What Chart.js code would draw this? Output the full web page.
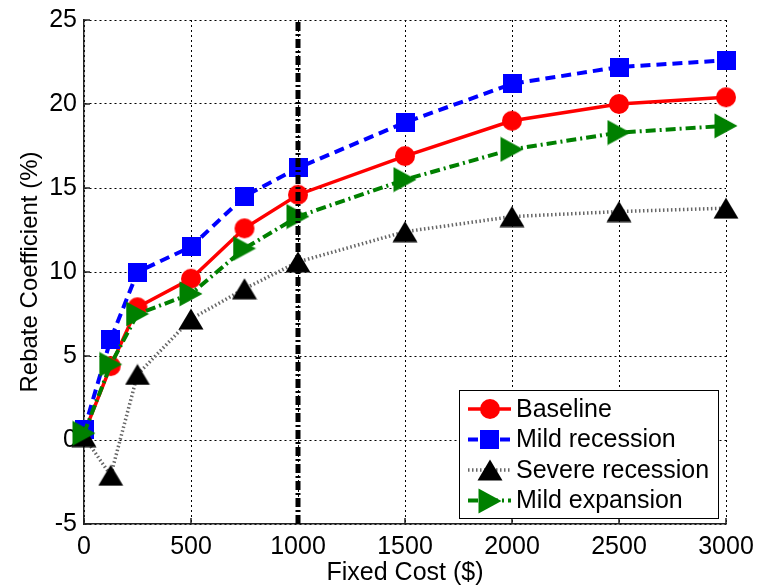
<!DOCTYPE html>
<html>
<head>
<meta charset="utf-8">
<script src="https://cdn.jsdelivr.net/npm/chart.js@4.4.0/dist/chart.umd.min.js"></script>
<style>
  body { margin: 0; background: #fff; }
</style>
</head>
<body>
<canvas id="rebateChart" width="757" height="586"></canvas>
<script>
// values
const fixedCost = [0, 125, 250, 500, 750, 1000, 1500, 2000, 2500, 3000]
const baseline = [0.4, 4.4, 7.9, 9.6, 12.6, 14.6, 16.9, 19.0, 20.0, 20.4]
const mildRecession = [0.6, 6.0, 10.0, 11.5, 14.5, 16.2, 18.9, 21.2, 22.2, 22.6]
const severeRecession = [0.2, -2.1, 3.9, 7.2, 9.0, 10.6, 12.4, 13.3, 13.6, 13.8]
const mildExpansion = [0.4, 4.5, 7.5, 8.7, 11.4, 13.3, 15.5, 17.3, 18.3, 18.7]
const thresholdCost = 1000

const xTicks = [0, 500, 1000, 1500, 2000, 2500, 3000]
const yTicks = [-5, 0, 5, 10, 15, 20, 25]

const fontFamily = "'Liberation Sans', Arial, Helvetica, sans-serif"

const toPoints = (ys) => fixedCost.map((x, i) => ({ x: x, y: ys[i] }))

// matlab-like markers, centred on their bounding box
function makeMarker(w, h, draw) {
  const c = document.createElement("canvas")
  c.width = w
  c.height = h
  const g = c.getContext("2d")
  draw(g)
  return c
}
const circleMark = makeMarker(22, 22, g => {
  g.fillStyle = "#ff0000"
  g.beginPath()
  g.arc(11, 11, 10, 0, Math.PI * 2)
  g.fill()
})
const squareMark = makeMarker(19, 19, g => {
  g.fillStyle = "#0000ff"
  g.fillRect(0, 0, 19, 19)
})
const upMark = makeMarker(26, 22, g => {
  g.fillStyle = "#000"
  g.beginPath()
  g.moveTo(13, 0.5); g.lineTo(25.5, 21.5); g.lineTo(0.5, 21.5)
  g.closePath()
  g.fill()
})
const rightMark = makeMarker(24, 26, g => {
  g.fillStyle = "#008000"
  g.beginPath()
  g.moveTo(0.5, 0.5); g.lineTo(23.5, 13); g.lineTo(0.5, 25.5)
  g.closePath()
  g.fill()
})

// small inward tick marks on the left and bottom axes
const innerTicks = {
  id: "innerTicks",
  beforeDatasetsDraw(chart) {
    const { ctx, chartArea: a, scales } = chart
    ctx.save()
    ctx.strokeStyle = "#222"
    ctx.lineWidth = 1.5
    ctx.beginPath()
    xTicks.forEach(v => {
      const px = Math.round(scales.x.getPixelForValue(v))
      ctx.moveTo(px, a.bottom)
      ctx.lineTo(px, a.bottom - 6)
    })
    yTicks.forEach(v => {
      const py = Math.round(scales.y.getPixelForValue(v))
      ctx.moveTo(a.left, py)
      ctx.lineTo(a.left + 6, py)
    })
    ctx.stroke()
    ctx.restore()
  }
}

const boxLegend = {
  id: "boxLegend",
  afterDraw(chart) {
    const ctx = chart.ctx
    const area = chart.chartArea
    const items = chart.data.datasets.filter(d => d.label)
    const w = 259, h = 128
    const x0 = area.right - 8 - w, y0 = area.bottom - 6 - h
    ctx.save()
    ctx.fillStyle = "#fff"
    ctx.fillRect(x0, y0, w, h)
    ctx.strokeStyle = "#000"
    ctx.lineWidth = 1
    ctx.strokeRect(x0 + 0.5, y0 + 0.5, w, h)
    items.forEach((d, i) => {
      const cy = y0 + 19 + i * 30.5
      ctx.strokeStyle = d.borderColor
      ctx.lineWidth = d.borderWidth
      ctx.setLineDash(d.borderDash || [])
      ctx.beginPath()
      ctx.moveTo(x0 + 9, cy)
      ctx.lineTo(x0 + 52, cy)
      ctx.stroke()
      ctx.setLineDash([])
      const m = d.pointStyle
      ctx.drawImage(m, Math.round(x0 + 30.5 - m.width / 2), Math.round(cy - m.height / 2))
      ctx.fillStyle = "#000"
      ctx.font = "25px " + fontFamily
      ctx.textBaseline = "middle"
      ctx.fillText(d.label, x0 + 57, cy + 1)
    })
    ctx.restore()
  }
}

const chart = new Chart(document.getElementById("rebateChart"), {
  type: "line",
  data: {
    datasets: [
      {
        label: "Baseline",
        data: toPoints(baseline),
        borderColor: "#ff0000",
        borderWidth: 3.5,
        pointStyle: circleMark,
        order: 4
      },
      {
        label: "Mild recession",
        data: toPoints(mildRecession),
        borderColor: "#0000ff",
        borderWidth: 4,
        borderDash: [10, 6],
        pointStyle: squareMark,
        order: 3
      },
      {
        label: "Severe recession",
        data: toPoints(severeRecession),
        borderColor: "#666",
        borderWidth: 3.5,
        borderDash: [1.5, 2.5],
        pointStyle: upMark,
        order: 2
      },
      {
        label: "Mild expansion",
        data: toPoints(mildExpansion),
        borderColor: "#008000",
        borderWidth: 4,
        borderDash: [10, 4, 2, 4],
        pointStyle: rightMark,
        order: 1
      },
      {
        data: [{ x: thresholdCost, y: yTicks[0] }, { x: thresholdCost, y: yTicks[yTicks.length - 1] }],
        borderColor: "#000",
        borderWidth: 5,
        borderDash: [9, 3, 2, 3],
        pointRadius: 0,
        order: 0
      }
    ]
  },
  options: {
    responsive: false,
    animation: false,
    layout: { padding: { top: 20, right: 31, left: 0, bottom: 0 } },
    elements: {
      line: { tension: 0, fill: false },
      point: { radius: 10, hoverRadius: 10 }
    },
    datasets: { line: { clip: false } },
    plugins: {
      legend: { display: false },
      tooltip: { enabled: false }
    },
    scales: {
      x: {
        type: "linear",
        min: 0,
        max: 3000,
        afterBuildTicks: s => { s.ticks = xTicks.map(v => ({ value: v })) },
        afterFit: s => {
          s.height = 62
          s.paddingLeft = 0
          s.paddingRight = 0
        },
        grid: { color: "#000", lineWidth: 1, drawTicks: false },
        border: { display: true, color: "#222", width: 1.5, dash: [2, 3] },
        ticks: {
          color: "#000",
          padding: 8,
          maxRotation: 0,
          font: { family: fontFamily, size: 25 },
          callback: v => String(v)
        },
        title: {
          display: true,
          text: "Fixed Cost ($)",
          color: "#000",
          padding: { top: 3, bottom: 0 },
          font: { family: fontFamily, size: 25, lineHeight: 1 }
        }
      },
      y: {
        min: -5,
        max: 25,
        afterBuildTicks: s => { s.ticks = yTicks.map(v => ({ value: v })) },
        afterFit: s => {
          s.width = 84
          s.paddingTop = 0
          s.paddingBottom = 0
        },
        grid: { color: "#000", lineWidth: 1, drawTicks: false },
        border: { display: true, color: "#222", width: 1.5, dash: [2, 3] },
        ticks: {
          color: "#000",
          padding: 7,
          font: { family: fontFamily, size: 25 },
          callback: v => String(v)
        },
        title: {
          display: true,
          text: "Rebate Coefficient (%)",
          color: "#000",
          padding: { top: 18, bottom: 0 },
          font: { family: fontFamily, size: 24, lineHeight: 1 }
        }
      }
    }
  },
  plugins: [innerTicks, boxLegend]
})
</script>
</body>
</html>
